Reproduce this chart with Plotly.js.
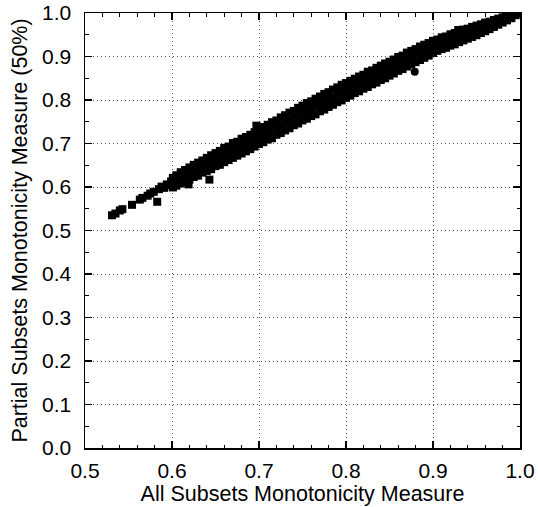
<!DOCTYPE html>
<html>
<head>
<meta charset="utf-8">
<script src="https://cdn.plot.ly/plotly-3.0.1.min.js"></script>
<style>
  html, body { margin: 0; padding: 0; background: #fff; }
  #chart { width: 538px; height: 507px; }
</style>
</head>
<body>
<div id="chart"></div>
<script>
// Monotonicity measure over all subsets vs. over a 50% partial sample
const allSubsets = [
  0.531,0.535,0.540,0.543,0.554,0.563,0.566,0.572,0.575,0.579,0.583,0.585,0.588,0.591,0.594,0.597,0.599,
  0.601,0.601,0.601, 0.605,0.605,0.605, 0.610,0.610,0.610, 0.615,0.615,0.615, 0.619,
  0.620,0.620,0.620, 0.625,0.625,0.625, 0.630,0.630,0.630, 0.635,0.635,0.635, 0.640,0.640,0.640, 0.643,
  0.645,0.645,0.645, 0.650,0.650,0.650,
  0.655,0.655,0.655, 0.660,0.660,0.660, 0.665,0.665,0.665, 0.670,0.670,0.670, 0.675,0.675,0.675,
  0.680,0.680,0.680, 0.685,0.685,0.685, 0.690,0.690,0.690, 0.695,0.695,0.695, 0.697, 0.700,0.700,0.700,
  0.705,0.705,0.705, 0.710,0.710,0.710, 0.715,0.715,0.715, 0.720,0.720,0.720, 0.725,0.725,0.725,
  0.730,0.730,0.730, 0.735,0.735,0.735, 0.740,0.740,0.740, 0.745,0.745,0.745, 0.750,0.750,0.750,
  0.755,0.755,0.755, 0.760,0.760,0.760, 0.765,0.765,0.765, 0.770,0.770,0.770, 0.775,0.775,0.775,
  0.780,0.780,0.780, 0.785,0.785,0.785, 0.790,0.790,0.790, 0.795,0.795,0.795, 0.800,0.800,0.800,
  0.805,0.805,0.805, 0.810,0.810,0.810, 0.815,0.815,0.815, 0.820,0.820,0.820, 0.825,0.825,0.825,
  0.830,0.830,0.830, 0.835,0.835,0.835, 0.840,0.840,0.840, 0.845,0.845,0.845, 0.850,0.850,0.850,
  0.855,0.855,0.855, 0.860,0.860,0.860, 0.865,0.865,0.865, 0.870,0.870,0.870, 0.875,0.875,0.875,
  0.880,0.880,0.880, 0.885,0.885,0.885, 0.890,0.890,0.890, 0.895,0.895,0.895, 0.900,0.900,0.900,
  0.905,0.905,0.905, 0.910,0.910,0.910, 0.915,0.915,0.915, 0.920,0.920,0.920, 0.925,0.925,0.925, 0.929,
  0.930,0.930,0.930, 0.935,0.935,0.935, 0.940,0.940,0.940, 0.945,0.945,0.945, 0.950,0.950,0.950,
  0.955,0.955,0.955, 0.960,0.960,0.960, 0.965,0.965,0.965, 0.970,0.970,0.970, 0.975,0.975,0.975,
  0.980,0.980,0.980, 0.985,0.985,0.985, 0.990,0.990,0.990, 0.995,0.995, 1.000
];
const partialSubsets = [
  0.535,0.539,0.546,0.549,0.559,0.571,0.575,0.580,0.585,0.589,0.566,0.595,0.601,0.598,0.606,0.604,0.613,
  0.621,0.610,0.599, 0.627,0.614,0.603, 0.634,0.621,0.608, 0.639,0.625,0.611, 0.606,
  0.645,0.632,0.617, 0.651,0.637,0.623, 0.656,0.641,0.626, 0.661,0.648,0.633, 0.667,0.652,0.637, 0.617,
  0.673,0.657,0.641, 0.678,0.664,0.648,
  0.683,0.668,0.651, 0.690,0.673,0.657, 0.693,0.678,0.662, 0.701,0.684,0.667, 0.704,0.689,0.672,
  0.711,0.694,0.677, 0.715,0.699,0.682, 0.720,0.705,0.687, 0.726,0.710,0.693, 0.741, 0.732,0.716,0.699,
  0.738,0.721,0.703, 0.743,0.726,0.709, 0.749,0.731,0.712, 0.753,0.737,0.720, 0.760,0.742,0.724,
  0.765,0.748,0.730, 0.771,0.753,0.735, 0.775,0.759,0.742, 0.782,0.764,0.746, 0.787,0.770,0.753,
  0.793,0.775,0.757, 0.797,0.780,0.763, 0.803,0.786,0.767, 0.808,0.791,0.774, 0.814,0.796,0.778,
  0.818,0.801,0.784, 0.824,0.806,0.789, 0.829,0.812,0.795, 0.835,0.817,0.799, 0.839,0.822,0.805,
  0.844,0.827,0.810, 0.849,0.832,0.816, 0.854,0.837,0.820, 0.858,0.842,0.826, 0.865,0.847,0.830,
  0.868,0.852,0.836, 0.874,0.857,0.840, 0.879,0.862,0.846, 0.884,0.867,0.850, 0.888,0.872,0.856,
  0.893,0.877,0.861, 0.899,0.882,0.867, 0.902,0.887,0.871, 0.909,0.892,0.877, 0.913,0.897,0.882,
  0.917,0.902,0.887, 0.923,0.907,0.892, 0.927,0.912,0.897, 0.931,0.917,0.902, 0.936,0.922,0.908,
  0.939,0.926,0.913, 0.944,0.930,0.917, 0.946,0.933,0.920, 0.951,0.937,0.925, 0.954,0.941,0.928, 0.961,
  0.957,0.945,0.933, 0.962,0.949,0.937, 0.964,0.952,0.941, 0.968,0.956,0.945, 0.971,0.960,0.949,
  0.974,0.964,0.954, 0.978,0.968,0.958, 0.980,0.972,0.963, 0.984,0.976,0.968, 0.987,0.980,0.973,
  0.990,0.984,0.978, 0.993,0.988,0.983, 0.996,0.992,0.988, 0.998,0.995, 1.000
];
// a few cases drawn as round dots
const roundAll = [0.879];
const roundPartial = [0.865];

const xTicks = [0.5, 0.6, 0.7, 0.8, 0.9, 1.0];
const yTicks = [0.0, 0.1, 0.2, 0.3, 0.4, 0.5, 0.6, 0.7, 0.8, 0.9, 1.0];

const traces = [
  {
    type: 'scatter', mode: 'markers',
    x: allSubsets, y: partialSubsets,
    marker: { symbol: 'square', size: 8, color: '#000', line: { width: 0 } },
    hoverinfo: 'x+y'
  },
  {
    type: 'scatter', mode: 'markers',
    x: roundAll, y: roundPartial,
    marker: { symbol: 'circle', size: 8, color: '#000', line: { width: 0 } },
    hoverinfo: 'x+y'
  }
];

const font = { family: 'Liberation Sans, Arial, sans-serif', color: '#000' };

const axisBase = {
  showline: true, linecolor: '#000', linewidth: 1.5,
  mirror: 'ticks', ticks: 'inside', ticklen: 7, tickwidth: 1.5, tickcolor: '#000',
  showgrid: true, gridcolor: '#555', gridwidth: 1, griddash: '1px,3px',
  zeroline: false, tickformat: '.1f',
  tickfont: Object.assign({ size: 21 }, font),
  fixedrange: true
};

const layout = {
  width: 538, height: 507,
  margin: { l: 85, r: 18, t: 13, b: 59 },
  paper_bgcolor: '#fff', plot_bgcolor: '#fff',
  showlegend: false,
  font: font,
  xaxis: Object.assign({}, axisBase, {
    range: [0.5, 1.0], tickvals: xTicks, ticklabelstandoff: 3,
    minor: { dtick: 0.02, ticks: 'inside', ticklen: 3.5, tickwidth: 1, tickcolor: '#000', showgrid: false },
    title: { text: 'All Subsets Monotonicity Measure', font: Object.assign({ size: 21.5 }, font), standoff: 4 }
  }),
  yaxis: Object.assign({}, axisBase, {
    range: [0.0, 1.0], tickvals: yTicks, ticklabelstandoff: 8,
    minor: { dtick: 0.05, ticks: 'inside', ticklen: 3.5, tickwidth: 1, tickcolor: '#000', showgrid: false },
    title: { text: 'Partial Subsets Monotonicity Measure (50%)', font: Object.assign({ size: 21.5 }, font), standoff: 8 }
  })
};

Plotly.newPlot('chart', traces, layout, { displayModeBar: false, staticPlot: true });
</script>
</body>
</html>
